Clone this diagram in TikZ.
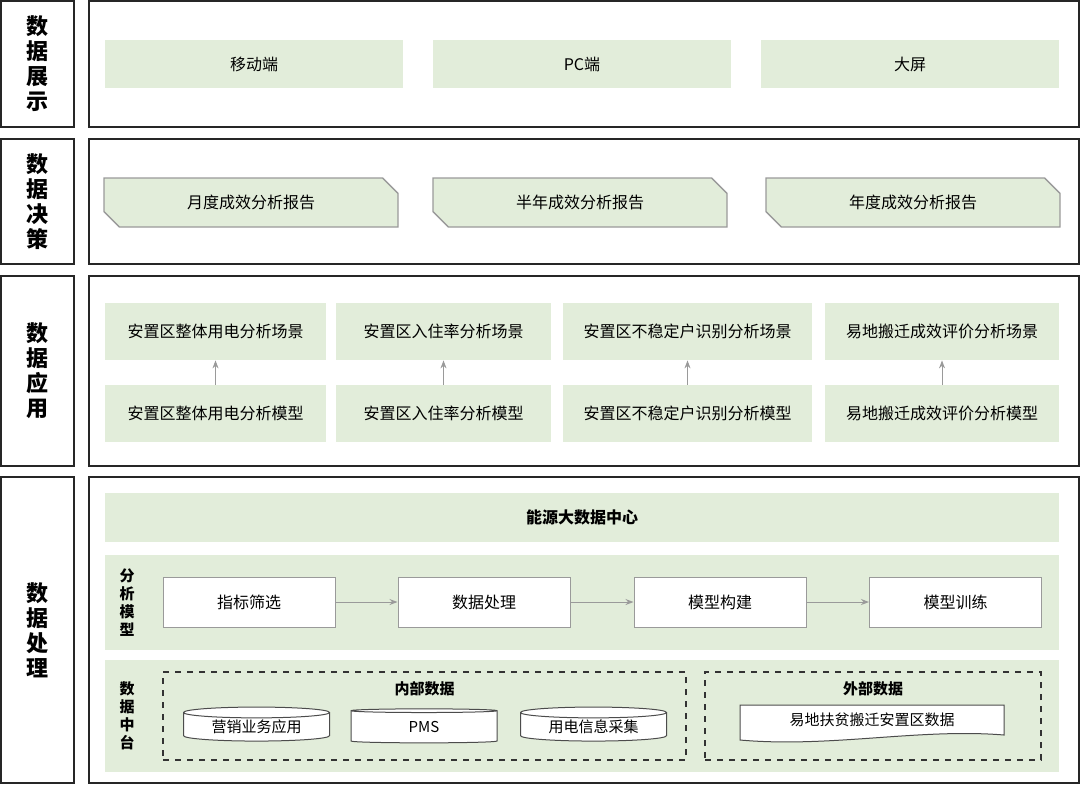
\documentclass[tikz,border=0pt]{standalone}
\usepackage{fontspec}
\setmainfont{Noto Sans CJK SC}
\usetikzlibrary{shapes.geometric,shapes.misc,arrows.meta}
\definecolor{lgreen}{HTML}{E2EDDA}
\definecolor{lgray}{HTML}{9A9A9A}
\tikzset{
  frame/.style={draw=black!85, line width=0.7pt},
  tag/.style={frame, align=center, font=\fontsize{11}{12.5}\selectfont\bfseries},
  cell/.style={fill=lgreen, font=\fontsize{8}{10}\selectfont, inner sep=0pt},
  report/.style={chamfered rectangle, chamfered rectangle corners={north east,south west},
    chamfered rectangle xsep=4pt, chamfered rectangle ysep=4pt, fill=lgreen, draw=lgray,
    line width=0.7pt, font=\fontsize{8}{10}\selectfont, inner sep=0pt},
  step box/.style={draw=lgray, fill=white, line width=0.5pt, font=\fontsize{8}{10}\selectfont,
    minimum width=86pt, minimum height=25pt},
  db/.style={cylinder, shape border rotate=90, aspect=0.12, draw=black!70, fill=white,
    line width=0.5pt, minimum width=73pt, minimum height=17pt, inner sep=0pt,
    font=\fontsize{7.5}{9}\selectfont},
  flow/.style={-{Stealth[length=4pt]}, lgray, line width=0.5pt},
  small tag/.style={font=\fontsize{7.5}{9}\selectfont\bfseries, align=center},
}
\begin{document}
\begin{tikzpicture}[x=0.5pt, y=-0.5pt]
  \useasboundingbox (0,0) rectangle (1080,784);
  % layer tags
  \node[tag, minimum width=36.5pt, minimum height=63pt] (t1) at (37.5,64) {数\\据\\展\\示};
  \node[tag, minimum width=36.5pt, minimum height=62.5pt] (t2) at (37.5,201.5) {数\\据\\决\\策};
  \node[tag, minimum width=36.5pt, minimum height=95pt] (t3) at (37.5,371) {数\\据\\应\\用};
  \node[tag, minimum width=36.5pt, minimum height=153pt] (t4) at (37.5,630) {数\\据\\处\\理};
  % layer frames
  \node[frame, minimum width=495pt, minimum height=63pt] (f1) at (584,64) {};
  \node[frame, minimum width=495pt, minimum height=62.5pt] (f2) at (584,201.5) {};
  \node[frame, minimum width=495pt, minimum height=95pt] (f3) at (584,371) {};
  \node[frame, minimum width=495pt, minimum height=153pt] (f4) at (584,630) {};

  % display
  \node[cell, minimum width=149pt, minimum height=24pt] (mobile) at (254,64) {移动端};
  \node[cell, minimum width=149pt, minimum height=24pt] (pc) at (582,64) {PC端};
  \node[cell, minimum width=149pt, minimum height=24pt] (screen) at (910,64) {大屏};

  % decision
  \node[report, minimum width=147pt, minimum height=24.5pt] (month) at (251,202.5) {月度成效分析报告};
  \node[report, minimum width=147pt, minimum height=24.5pt] (half) at (580,202.5) {半年成效分析报告};
  \node[report, minimum width=147pt, minimum height=24.5pt] (year) at (913,202.5) {年度成效分析报告};

  % application
  \foreach \n/\cx/\w/\txt in {a/215.5/110.5/安置区整体用电分析, b/443.5/107.5/安置区入住率分析,
      c/687.5/124.5/安置区不稳定户识别分析, d/942/117/易地搬迁成效评价分析} {
    \node[cell, minimum width=\w pt, minimum height=28.5pt] (\n top) at (\cx,331.5) {\txt 场景};
    \node[cell, minimum width=\w pt, minimum height=28.5pt] (\n bot) at (\cx,413.5) {\txt 模型};
    \draw[flow] (\n bot) -- (\n top);
  }

  % processing
  \node[cell, minimum width=477pt, minimum height=24.5pt, font=\fontsize{8}{10}\selectfont\bfseries] (center) at (582,517.5) {能源大数据中心};
  \node[cell, minimum width=477pt, minimum height=47.5pt] (modelband) at (582,602.5) {};
  \node[small tag] (modeltag) at (127,602.5) {分\\析\\模\\型};
  \node[step box] (s1) at (249,602) {指标筛选};
  \node[step box] (s2) at (484,602) {数据处理};
  \node[step box] (s3) at (720,602) {模型构建};
  \node[step box] (s4) at (955.5,602) {模型训练};
  \draw[flow] (s1) -- (s2);
  \draw[flow] (s2) -- (s3);
  \draw[flow] (s3) -- (s4);

  \node[cell, minimum width=477pt, minimum height=56pt] (databand) at (582,716) {};
  \node[small tag] (datatag) at (127,716) {数\\据\\中\\台};
  \node[draw=black!80, dashed, line width=0.6pt, minimum width=261.5pt, minimum height=44pt] (inner) at (424.5,716) {};
  \node[draw=black!80, dashed, line width=0.6pt, minimum width=168pt, minimum height=44pt] (outer) at (873,716) {};
  \node[small tag] (innertitle) at (424.5,689) {内部数据};
  \node[small tag] (outertitle) at (873,689) {外部数据};
  \node[db] (sales) at (256.5,727) {营销业务应用};
  \node[db] (pms) at (424,727) {PMS};
  \node[db] (collect) at (593.5,727) {用电信息采集};
  \coordinate (docnw) at (740,705);
  \coordinate (docse) at (1004,735);
  \draw[draw=black!70, fill=white, line width=0.5pt] (docnw) -- (1004,705) -- (docse)
    .. controls (920,728) and (830,748) .. (740,740) -- cycle;
  \node[font=\fontsize{7.5}{9}\selectfont] (outerdata) at (872,720) {易地扶贫搬迁安置区数据};
\end{tikzpicture}
\end{document}
